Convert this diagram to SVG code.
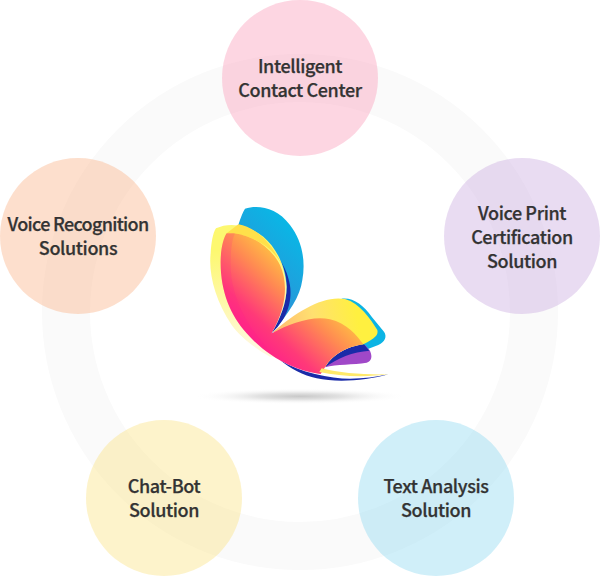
<svg xmlns="http://www.w3.org/2000/svg" width="600" height="576" viewBox="0 0 600 576">
<style>
.n{font-family:"Noto Sans CJK KR","Noto Sans",sans-serif;font-size:18px;font-weight:500;fill:#333;stroke:#333;stroke-width:.25px;text-anchor:middle;letter-spacing:-.38px}
</style>
<defs>
<linearGradient id="gb" gradientUnits="userSpaceOnUse" x1="170" y1="300" x2="340" y2="130"><stop offset="0" stop-color="#2f8fd6"/><stop offset="1" stop-color="#08b8e6"/></linearGradient>
<linearGradient id="gm" gradientUnits="userSpaceOnUse" x1="150" y1="470" x2="430" y2="170"><stop offset="0" stop-color="#ff1493"/><stop offset=".24" stop-color="#ff3a78"/><stop offset=".5" stop-color="#ff8a52"/><stop offset=".72" stop-color="#ffc840"/></linearGradient>
<linearGradient id="gl" gradientUnits="userSpaceOnUse" x1="130" y1="470" x2="110" y2="180"><stop offset="0" stop-color="#fff8dc"/><stop offset="1" stop-color="#fdf870"/></linearGradient>
<linearGradient id="gy" gradientUnits="userSpaceOnUse" x1="270" y1="420" x2="500" y2="370"><stop offset="0" stop-color="#ffbf70"/><stop offset=".45" stop-color="#ffe070"/><stop offset="1" stop-color="#fff040"/></linearGradient>
<radialGradient id="gs"><stop offset="0" stop-color="#c8c8c8"/><stop offset=".4" stop-color="#e2e2e2"/><stop offset="1" stop-color="#fff" stop-opacity="0"/></radialGradient>
</defs>
<g id="connectors"><circle cx="300" cy="312" r="234" fill="none" stroke="#fafafa" stroke-width="48"/></g>
<g id="butterfly" transform="translate(190 190) scale(.3333)">
<ellipse cx="330" cy="619" rx="320" ry="24" fill="url(#gs)"/>
<path d="M165 56C205 44 260 52 300 105C335 150 348 210 337 270C330 320 300 365 245 430L145 105Q155 72 165 56Z" fill="url(#gb)"/>
<path d="M270 210C300 260 300 340 245 430L262 412C295 375 312 320 295 265C290 245 280 225 270 210Z" fill="#1a2ba8"/>
<path d="M455 326C490 322 520 345 545 380L582 425C592 440 585 455 565 465L520 482L440 400Z" fill="#0cb4e4"/>
<path d="M405 532C430 500 470 470 525 464L540 482C548 500 545 512 530 518C490 525 440 522 405 532Z" fill="#a048c8"/>
<path d="M405 532C425 495 475 468 522 463L538 482C490 485 440 505 405 532Z" fill="#1a2ba8"/>
<path d="M250 425C320 365 400 315 465 327C510 340 540 385 562 420C566 435 555 445 520 463C480 465 430 490 405 532L300 500Z" fill="url(#gy)"/>
<path d="M78 115C120 95 175 105 220 140C260 175 285 225 290 290C290 340 270 385 245 430L300 500L240 500C195 475 150 440 125 405C75 330 55 250 62 190C64 160 68 130 78 115Z" fill="url(#gl)"/>
<path d="M145 103C190 110 245 150 283 240C255 170 180 130 110 130Z" fill="#ffe04a"/>
<path d="M270 510C330 548 420 566 480 566C520 566 560 561 595 553C530 572 440 578 380 565C340 557 300 535 270 510Z" fill="#1a2ba8"/>
<path d="M110 130C170 125 240 165 270 225C295 280 290 350 245 430C300 400 370 375 420 388C470 400 500 435 520 463C470 470 425 495 405 532L392 552C330 545 240 510 170 430C120 375 90 300 92 210C93 175 100 145 110 130Z" fill="url(#gm)"/>
<path d="M110 130C100 145 93 175 92 210C90 300 120 375 170 430C190 450 215 468 240 483C190 430 125 340 122 230C121 190 125 150 135 130Z" fill="#ff1493" fill-opacity=".14"/>
<path d="M395 535C450 550 530 555 595 553C530 562 450 560 388 546Z" fill="#ffe96a"/>
</g>
<g id="node-contact"><circle cx="300" cy="78" r="78" fill="#fa98b6" fill-opacity=".4"/><text class="n" x="300" y="72.7">Intelligent</text><text class="n" x="300" y="96.7">Contact Center</text></g>
<g id="node-voiceprint"><circle cx="522" cy="236" r="78" fill="#c8a8de" fill-opacity=".4"/><text class="n" x="522" y="219.7">Voice Print</text><text class="n" x="522" y="243.7">Certification</text><text class="n" x="522" y="267.7">Solution</text></g>
<g id="node-text"><circle cx="436" cy="498" r="78" fill="#89d7f0" fill-opacity=".4"/><text class="n" x="436" y="492.7">Text Analysis</text><text class="n" x="436" y="516.7">Solution</text></g>
<g id="node-chatbot"><circle cx="164" cy="498" r="78" fill="#fae17d" fill-opacity=".4"/><text class="n" x="164" y="492.7">Chat-Bot</text><text class="n" x="164" y="516.7">Solution</text></g>
<g id="node-recognition"><circle cx="78" cy="236" r="78" fill="#faaf82" fill-opacity=".4"/><text class="n" x="78" y="230.7" style="letter-spacing:-.7px">Voice Recognition</text><text class="n" x="78" y="254.7">Solutions</text></g>
</svg>
